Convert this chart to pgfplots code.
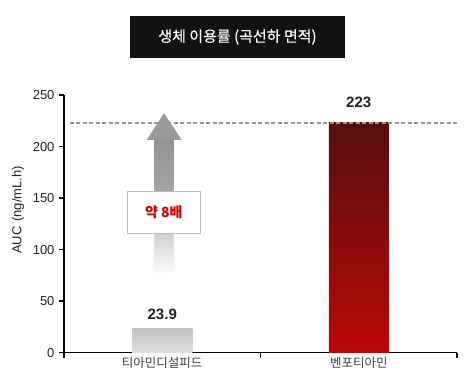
\documentclass[border=0pt]{standalone}
\usepackage{pgfplots}
\pgfplotsset{compat=1.18}
\usepackage{fontspec}
\setmainfont{Liberation Sans}
\newfontfamily\kr{Noto Sans CJK KR}
\newfontfamily\krt[FakeBold=0.5]{Noto Sans CJK KR}
\definecolor{txt}{HTML}{222222}
\definecolor{darkred}{HTML}{560E0F}
\definecolor{brightred}{HTML}{B90808}
\definecolor{gtop}{HTML}{C2C2C2}
\definecolor{gbot}{HTML}{E0E0E0}
\begin{document}
\begin{tikzpicture}
\path[use as bounding box] (-64pt,-37.3pt) rectangle (410pt,352.7pt);
\begin{axis}[
  at={(0,0)}, anchor=south west,
  scale only axis, width=393pt, height=257.7pt,
  xmin=-0.5, xmax=1.5, ymin=0, ymax=250,
  axis x line*=bottom, axis y line*=left,
  axis line style={line width=1.4pt, color=black},
  ytick={0,50,100,150,200,250},
  xtick={-0.5,0.5,1.5}, xticklabels={},
  extra x ticks={0,1},
  extra x tick labels={{\kr 티아민디설피드},{\kr 벤포티아민}},
  extra x tick style={major tick length=0pt, tick label style={font=\fontsize{12.5}{14}\selectfont, text=black!75, yshift=-1pt}},
  tick align=outside, major tick length=5pt,
  tick style={line width=1.4pt, color=black},
  /pgf/number format/assume math mode=true,
  yticklabel style={font=\fontsize{13}{15}\selectfont, text=txt, xshift=-1pt},
  ylabel={AUC\,\raisebox{0.9ex}{\scriptsize\textperiodcentered}(ng/mL.h)},
  ylabel style={font=\fontsize{13}{15}\selectfont, text=txt, at={(axis description cs:-0.117,0.554)}, anchor=center},
  clip=false,
]
\addplot[ybar, bar width=60pt, bar shift=0pt, draw=none, top color=gtop, bottom color=gbot,
  nodes near coords, every node near coord/.append style={font=\bfseries\fontsize{15}{17}\selectfont, text=txt, yshift=5pt},
  point meta=explicit symbolic]
  coordinates {(0,23.9) [23.9]};
\addplot[ybar, bar width=60pt, bar shift=0pt, draw=none, top color=darkred, bottom color=brightred,
  nodes near coords, every node near coord/.append style={font=\bfseries\fontsize{15}{17}\selectfont, text=txt, yshift=12pt},
  point meta=explicit symbolic]
  coordinates {(1,223) [223]};
\addplot[black!42, line width=1.6pt, dash pattern=on 4pt off 2.5pt, forget plot]
  coordinates {(-0.47,223) (1.5,223)};
\end{axis}
% title box
\fill[black!93] (66pt,294.7pt) rectangle (281pt,336.7pt);
\node[text=white, font=\krt\fontsize{15}{17}\selectfont] at (173.5pt,315.7pt) {생체 이용률 (곡선하 면적)};
% arrow
\fill[black!40] (82.7pt,212.7pt) -- (100pt,239.4pt) -- (117.7pt,212.7pt) -- cycle;
\shade[top color=black!42, bottom color=black!36] (90.3pt,161pt) rectangle (109.3pt,212.8pt);
\shade[top color=black!18, bottom color=white] (90.3pt,77.7pt) rectangle (109.3pt,119.4pt);
\draw[black!25, fill=white, line width=0.8pt] (63.7pt,119.4pt) rectangle (136pt,161pt);
\node[text=red!80!black, font=\kr\bfseries\fontsize{14}{16}\selectfont] at (99.8pt,140.2pt) {약 8배};
\end{tikzpicture}
\end{document}
